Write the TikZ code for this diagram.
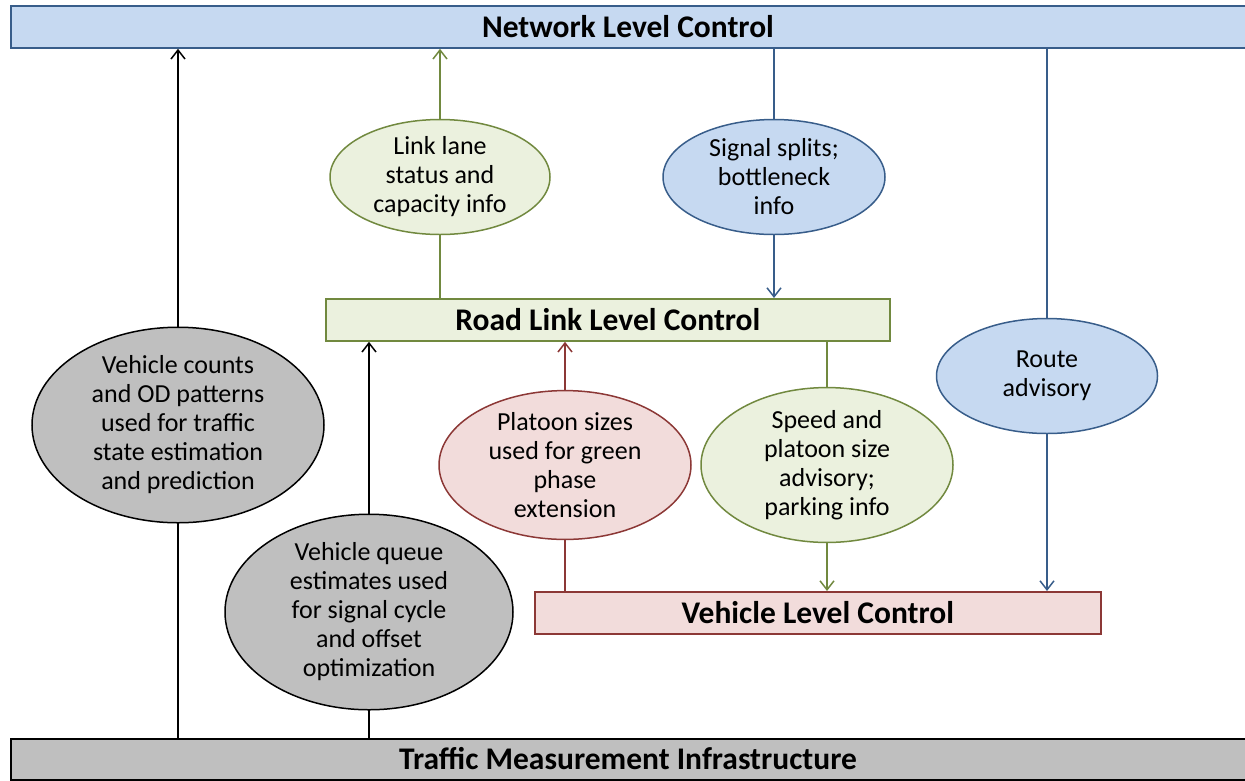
\documentclass[tikz,border=0pt]{standalone}
\usepackage{fontspec}
\setmainfont{Carlito}
\usetikzlibrary{arrows.meta,shapes.geometric}
\definecolor{bfill}{HTML}{C6D9F1}
\definecolor{bline}{HTML}{385D8A}
\definecolor{gfill}{HTML}{EBF1DE}
\definecolor{gline}{HTML}{71893F}
\definecolor{rfill}{HTML}{F2DCDB}
\definecolor{rline}{HTML}{8C3836}
\definecolor{kfill}{HTML}{BFBFBF}
\pgfdeclarelayer{bg}
\pgfsetlayers{bg,main}
\tikzset{
  ttl/.style={font=\fontsize{31.5}{36}\selectfont\bfseries},
  lvl/.style={rectangle, line width=1.8pt, inner sep=0pt, anchor=north west, ttl},
  bubble/.style={ellipse, line width=1.5pt, inner sep=0pt, align=center,
    font=\fontsize{26}{29}\selectfont},
  conn/.style={line width=1.5pt, -{Straight Barb[length=9pt,width=14pt,line width=1.5pt]}},
}
\begin{document}
\begin{tikzpicture}[x=1pt,y=-1pt]
\useasboundingbox (0,0) rectangle (1245,780);
\begin{scope}
\clip (0,0) rectangle (1245,780);
% level boxes
\node[lvl, fill=bfill, draw=bline, minimum width=1238pt, minimum height=42pt] (nlc) at (10,5) {};
\node[ttl] at (628,27) {Network Level Control};
\node[lvl, fill=gfill, draw=gline, minimum width=564pt, minimum height=42pt] (rlc) at (325,298) {Road Link Level Control};
\node[lvl, fill=rfill, draw=rline, minimum width=566pt, minimum height=42pt] (vlc) at (534,591) {Vehicle Level Control};
\node[lvl, fill=kfill, draw=black, minimum width=1236pt, minimum height=41pt] (tmi) at (10,738) {};
\node[ttl] at (628,759) {Traffic Measurement Infrastructure};

% bubbles
\node[bubble, fill=gfill, draw=gline, minimum width=220pt, minimum height=115pt] (lls) at (440,177) {Link lane\\status and\\capacity info};
\node[bubble, fill=bfill, draw=bline, minimum width=222pt, minimum height=115pt] (sig) at (774,177) {Signal splits;\\bottleneck\\info};
\node[bubble, fill=bfill, draw=bline, minimum width=221pt, minimum height=115pt] (rte) at (1047,376) {Route\\advisory};
\node[bubble, fill=rfill, draw=rline, minimum width=252pt, minimum height=125pt] (pla) at (565,465) {Platoon sizes\\used for green\\phase\\extension};
\node[bubble, fill=gfill, draw=gline, minimum width=252pt, minimum height=125pt] (spd) at (827,465) {Speed and\\platoon size\\advisory;\\parking info};
\node[bubble, fill=kfill, draw=black, minimum width=292pt, minimum height=170pt] (cnt) at (178,425) {Vehicle counts\\and OD patterns\\used for traffic\\state estimation\\and prediction};
\node[bubble, fill=kfill, draw=black, minimum width=288pt, minimum height=166pt] (que) at (369,612) {Vehicle queue\\estimates used\\for signal cycle\\and offset\\optimization};

% connectors
\begin{pgfonlayer}{bg}
\draw[conn, black] (tmi.north -| cnt) -- (nlc.south -| cnt);
\draw[conn, black] (tmi.north -| que) -- (rlc.south -| que);
\draw[conn, gline] (rlc.north -| lls) -- (nlc.south -| lls);
\draw[conn, bline] (nlc.south -| sig) -- (rlc.north -| sig);
\draw[conn, bline] (nlc.south -| rte) -- (vlc.north -| rte);
\draw[conn, rline] (vlc.north -| pla) -- (rlc.south -| pla);
\draw[conn, gline] (rlc.south -| spd) -- (vlc.north -| spd);
\end{pgfonlayer}
\end{scope}
\end{tikzpicture}
\end{document}
